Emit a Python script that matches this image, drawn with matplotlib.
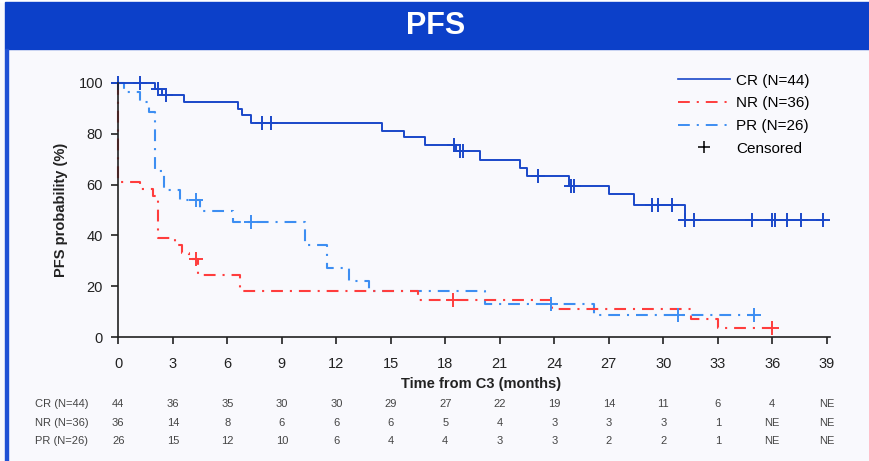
import numpy as np
import matplotlib
matplotlib.use("Agg")
import matplotlib.pyplot as plt
from matplotlib.lines import Line2D
from matplotlib.patches import Rectangle
from matplotlib.transforms import blended_transform_factory

plt.rcParams['font.family'] = ['Liberation Sans', 'DejaVu Sans']
plt.rcParams['lines.scale_dashes'] = False

# Kaplan-Meier step points (months, PFS %)
cr_t = [0, 2.0, 2.4, 3.6, 6.6, 6.8, 7.3, 14.5, 15.7, 16.9, 18.6, 19.9, 22.1, 22.5,
        24.8, 27.0, 28.4, 31.2, 38.9]
cr_s = [100, 97.7, 95.3, 92.5, 89.8, 87.2, 84.3, 81.2, 78.5, 75.7, 73.3, 69.8, 66.6,
        63.3, 59.6, 56.1, 51.8, 45.9, 45.9]
cr_cens = [0, 1.2, 2.2, 2.6, 7.9, 8.4, 18.5, 18.8, 19.0, 23.1, 24.9, 25.1, 29.4, 29.7,
           30.5, 31.2, 31.7, 34.9, 36.0, 36.15, 36.8, 37.6, 38.8]

nr_t = [0, 0, 1.2, 1.9, 2.2, 3.1, 3.5, 3.9, 4.4, 6.7, 16.5, 23.9, 31.5, 33.0, 36.0]
nr_s = [100, 61.1, 58.3, 55.6, 38.9, 36.1, 33.3, 30.6, 24.3, 18.0, 14.5, 11.0, 7.3, 3.6, 3.6]
nr_cens = [4.25, 18.4, 36.0]

pr_t = [0, 0.3, 1.2, 1.7, 2.0, 2.5, 3.4, 4.5, 6.3, 10.3, 11.5, 12.7, 13.8, 20.2, 26.2, 35.0]
pr_s = [100, 96.2, 92.3, 88.5, 65.4, 57.7, 53.8, 49.5, 45.2, 36.1, 27.1, 22.1, 18.1,
        13.2, 8.6, 8.6]
pr_cens = [4.25, 7.3, 23.8, 30.8, 35.0]

labels = ['CR (N=44)', 'NR (N=36)', 'PR (N=26)']
months = list(range(0, 40, 3))
risk_cr = ['44', '36', '35', '30', '30', '29', '27', '22', '19', '14', '11', '6', '4', 'NE']
risk_nr = ['36', '14', '8', '6', '6', '6', '5', '4', '3', '3', '3', '1', 'NE', 'NE']
risk_pr = ['26', '15', '12', '10', '6', '4', '4', '3', '3', '2', '2', '1', 'NE', 'NE']

c_cr = '#1a48c9'
c_nr = '#ff3d3d'
c_pr = '#3d8ef2'
dashdot = (0, (8.5, 5.0, 1.5, 5.0))

W, H = 869, 461
def fx(px):
    return px / W
def fy(py):
    return 1 - py / H

fig = plt.figure(figsize=(W / 100, H / 100), dpi=100)
fig.patch.set_facecolor('#f9f9fd')

# header band and left border
fig.patches.append(Rectangle((0, fy(2)), 1, 2 / H, transform=fig.transFigure,
                             color='white', zorder=0))
fig.patches.append(Rectangle((fx(5), fy(49)), 1, 47 / H, transform=fig.transFigure,
                             color='#0c40c9', zorder=1))
fig.patches.append(Rectangle((fx(5), 0), 3 / W, fy(49), transform=fig.transFigure,
                             color='#1f50d4', zorder=1))
fig.text(fx(436), fy(26), 'PFS', color='white', fontsize=22, fontweight='bold',
         ha='center', va='center')

ax = fig.add_axes([fx(118.3), fy(337.3), (829.5 - 118.3) / W, (337.3 - 82.7) / H])
ax.set_facecolor('#f9f9fd')


def censor_y(t, s, c):
    idx = np.searchsorted(t, c, side='right') - 1
    return np.asarray(s)[idx]


ax.step(pr_t, pr_s, where='post', color=c_pr, lw=1.5, linestyle=dashdot, clip_on=False)
ax.step(nr_t, nr_s, where='post', color=c_nr, lw=1.5, linestyle=dashdot, clip_on=False)
ax.step(cr_t, cr_s, where='post', color=c_cr, lw=1.4, clip_on=False)
ax.plot(pr_cens, censor_y(pr_t, pr_s, pr_cens), '+', color=c_pr, ms=10, mew=1.4, clip_on=False)
ax.plot(nr_cens, censor_y(nr_t, nr_s, nr_cens), '+', color=c_nr, ms=10, mew=1.4, clip_on=False)
ax.plot(cr_cens, censor_y(cr_t, cr_s, cr_cens), '+', color=c_cr, ms=10, mew=1.4, clip_on=False)

ax.set_xlim(0, 39.15)
ax.set_ylim(0, 100)
ax.set_xticks(months)
ax.set_yticks(range(0, 101, 20))
for side in ['top', 'right']:
    ax.spines[side].set_visible(False)
for side in ['left', 'bottom']:
    ax.spines[side].set_linewidth(1.2)
    ax.spines[side].set_color('#222222')
ax.tick_params(axis='x', length=5, width=1.2, pad=9, labelsize=10.5, colors='#222222')
ax.tick_params(axis='y', length=5, width=1.2, pad=6, labelsize=10.5, colors='#222222')

fig.text(fx(481), fy(384), 'Time from C3 (months)', fontsize=10.5, fontweight='bold',
         color='#222222', ha='center', va='center')
fig.text(fx(61), fy(210), 'PFS probability (%)', fontsize=10.5, fontweight='bold',
         color='#222222', ha='center', va='center', rotation=90)

handles = [Line2D([], [], color=c_cr, lw=1.2),
           Line2D([], [], color=c_nr, lw=1.4, linestyle=dashdot),
           Line2D([], [], color=c_pr, lw=1.4, linestyle=dashdot),
           Line2D([], [], color='black', marker='+', linestyle='none', ms=9, mew=1.1)]
fig.legend(handles, labels + ['Censored'], loc='upper left',
           bbox_to_anchor=(fx(678), fy(73.5)), bbox_transform=fig.transFigure,
           frameon=False, fontsize=11, handlelength=3.4, handletextpad=0.4,
           labelspacing=0.57, borderpad=0, borderaxespad=0)

# number at risk table
trans = blended_transform_factory(ax.transData, fig.transFigure)
for row_y, lab, vals in zip([404, 423, 441], labels, [risk_cr, risk_nr, risk_pr]):
    fig.text(fx(35), fy(row_y), lab, fontsize=8, color='#444444', ha='left', va='center')
    for m, v in zip(months, vals):
        ax.text(m, fy(row_y), v, transform=trans, fontsize=8, color='#444444',
                ha='center', va='center', clip_on=False)

fig.savefig('out.png', dpi=100, facecolor=fig.get_facecolor())
